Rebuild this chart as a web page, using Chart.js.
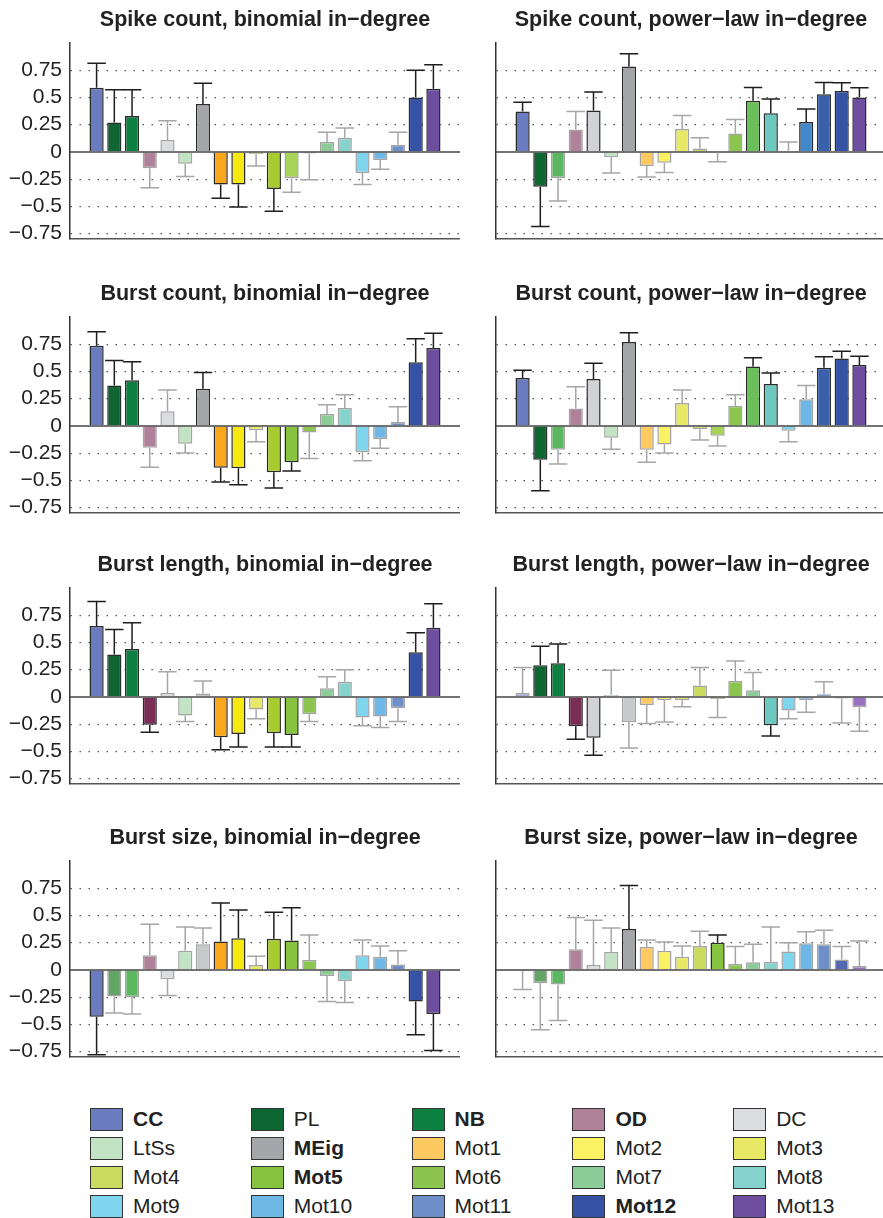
<!DOCTYPE html>
<html>
<head>
<meta charset="utf-8">
<script src="https://cdn.jsdelivr.net/npm/chart.js@4.4.1/dist/chart.umd.min.js"></script>
<style>
  html, body { margin: 0; padding: 0; background: #fff; width: 883px; height: 1218px; overflow: hidden; position: relative; font-family: "Liberation Sans", Arial, sans-serif; }
  canvas { position: absolute; }
  .lg { position: absolute; display: flex; align-items: center; font-size: 21px; color: #222; white-space: nowrap; }
  .lg .box { width: 33px; height: 23px; box-sizing: border-box; border: 1.5px solid #333; margin-right: 10px; }
</style>
</head>
<body>
<canvas id="c1" width="460" height="251" style="left:0;top:0"></canvas>
<canvas id="c2" width="460" height="251" style="left:426px;top:0"></canvas>
<canvas id="c3" width="460" height="251" style="left:0;top:274px"></canvas>
<canvas id="c4" width="460" height="251" style="left:426px;top:274px"></canvas>
<canvas id="c5" width="460" height="251" style="left:0;top:545px"></canvas>
<canvas id="c6" width="460" height="251" style="left:426px;top:545px"></canvas>
<canvas id="c7" width="460" height="251" style="left:0;top:818px"></canvas>
<canvas id="c8" width="460" height="251" style="left:426px;top:818px"></canvas>
<div id="legend"></div>
<script>
const names = ["CC", "PL", "NB", "OD", "DC", "LtSs", "MEig", "Mot1", "Mot2", "Mot3",
  "Mot4", "Mot5", "Mot6", "Mot7", "Mot8", "Mot9", "Mot10", "Mot11", "Mot12", "Mot13"];
const boldNames = ["CC", "NB", "OD", "MEig", "Mot5", "Mot12"];

// legend swatches, fill of significant bars, fill of the other bars
const legendColors = ["#6a7bc0", "#0e6633", "#0c8040", "#b0829a", "#dcdde0", "#c3e3c5", "#a5a6a9", "#fdc961", "#faf263", "#e6e866",
  "#c9da5e", "#86c440", "#8bc54f", "#8ccc99", "#86d2cd", "#7fd4ee", "#6fb8e6", "#6f8fc9", "#3652a4", "#6e4e9e"];
const sigColors = ["#6a7bc0", "#0e6633", "#0c8040", "#7a2e55", "#d2d3d6", "#c3e3c5", "#a5a6a9", "#f9a81c", "#f8e811", "#e6e866",
  "#a8cc30", "#86c440", "#8bc54f", "#6abf5a", "#6cc9c0", "#7fd4ee", "#4388c8", "#3a5fac", "#3652a4", "#6e4e9e"];
const weakColors = ["#a8b0d8", "#62a565", "#5cb860", "#b0829a", "#dcdde0", "#c3e3c5", "#c8c9cb", "#fdc961", "#faf263", "#e6e866",
  "#c9da5e", "#a8d45a", "#8bc54f", "#8ccc99", "#86d2cd", "#7fd4ee", "#6fb8e6", "#6f8fc9", "#5566b0", "#9a70c0"];

const yTicks = [-0.75, -0.5, -0.25, 0, 0.25, 0.5, 0.75];

// Spike count
const spikeBinMean = [0.59, 0.27, 0.33, -0.15, 0.11, -0.11, 0.44, -0.30, -0.30, -0.02, -0.34, -0.24, -0.015, 0.09, 0.13, -0.195, -0.075, 0.065, 0.50, 0.58];
const spikeBinErr  = [0.225, 0.30, 0.24, 0.18, 0.175, 0.115, 0.19, 0.125, 0.205, 0.11, 0.205, 0.13, 0.24, 0.09, 0.09, 0.105, 0.085, 0.115, 0.25, 0.22];
const spikeBinSig  = [1, 1, 1, 0, 0, 0, 1, 1, 1, 0, 1, 0, 0, 0, 0, 0, 0, 0, 1, 1];
const spikePowMean = [0.37, -0.32, -0.24, 0.205, 0.38, -0.05, 0.785, -0.13, -0.10, 0.21, 0.03, -0.005, 0.17, 0.47, 0.355, 0.005, 0.275, 0.53, 0.56, 0.50];
const spikePowErr  = [0.085, 0.365, 0.21, 0.167, 0.171, 0.143, 0.116, 0.10, 0.09, 0.125, 0.10, 0.085, 0.128, 0.122, 0.13, 0.085, 0.12, 0.107, 0.076, 0.09];
const spikePowSig  = [1, 1, 0, 0, 1, 0, 1, 0, 0, 0, 0, 0, 0, 1, 1, 0, 1, 1, 1, 1];

// Burst count
const burstBinMean = [0.735, 0.37, 0.42, -0.20, 0.135, -0.165, 0.34, -0.385, -0.39, -0.04, -0.425, -0.335, -0.06, 0.11, 0.165, -0.24, -0.12, 0.035, 0.585, 0.715];
const burstBinErr  = [0.13, 0.23, 0.17, 0.18, 0.195, 0.085, 0.15, 0.13, 0.15, 0.105, 0.145, 0.08, 0.24, 0.085, 0.12, 0.08, 0.085, 0.14, 0.215, 0.135];
const burstBinSig  = [1, 1, 1, 0, 0, 0, 1, 1, 1, 0, 1, 1, 0, 0, 0, 0, 0, 0, 1, 1];
const burstPowMean = [0.44, -0.31, -0.22, 0.16, 0.43, -0.11, 0.77, -0.22, -0.17, 0.21, -0.03, -0.09, 0.185, 0.545, 0.385, -0.045, 0.245, 0.535, 0.62, 0.56];
const burstPowErr  = [0.07, 0.285, 0.13, 0.20, 0.145, 0.105, 0.085, 0.115, 0.08, 0.12, 0.10, 0.095, 0.10, 0.08, 0.10, 0.10, 0.125, 0.10, 0.065, 0.08];
const burstPowSig  = [1, 1, 0, 0, 1, 0, 1, 0, 0, 0, 0, 0, 0, 1, 1, 0, 0, 1, 1, 1];

// Burst length
const lenBinMean = [0.65, 0.39, 0.44, -0.255, 0.035, -0.17, 0.03, -0.37, -0.34, -0.115, -0.335, -0.35, -0.16, 0.08, 0.14, -0.19, -0.18, -0.105, 0.41, 0.635];
const lenBinErr  = [0.225, 0.23, 0.24, 0.07, 0.195, 0.055, 0.115, 0.115, 0.12, 0.085, 0.125, 0.11, 0.065, 0.105, 0.11, 0.075, 0.10, 0.12, 0.18, 0.22];
const lenBinSig  = [1, 1, 1, 1, 0, 0, 0, 1, 1, 0, 1, 1, 0, 0, 0, 0, 0, 0, 1, 1];
const lenPowMean = [0.035, 0.29, 0.31, -0.27, -0.375, 0.02, -0.23, -0.075, -0.03, -0.03, 0.105, -0.02, 0.145, 0.06, -0.26, -0.125, -0.03, 0.025, -0.015, -0.095];
const lenPowErr  = [0.235, 0.175, 0.175, 0.12, 0.16, 0.225, 0.24, 0.17, 0.20, 0.06, 0.165, 0.17, 0.185, 0.165, 0.10, 0.075, 0.11, 0.115, 0.225, 0.22];
const lenPowSig  = [0, 1, 1, 1, 1, 0, 0, 0, 0, 0, 0, 0, 0, 0, 1, 0, 0, 0, 0, 0];

// Burst size
const sizeBinMean = [-0.43, -0.245, -0.25, 0.135, -0.085, 0.175, 0.235, 0.26, 0.29, 0.045, 0.285, 0.27, 0.09, -0.055, -0.105, 0.135, 0.12, 0.05, -0.29, -0.405];
const sizeBinErr  = [0.35, 0.15, 0.155, 0.285, 0.15, 0.22, 0.15, 0.355, 0.26, 0.08, 0.245, 0.30, 0.23, 0.235, 0.195, 0.14, 0.10, 0.125, 0.305, 0.335];
const sizeBinSig  = [1, 0, 0, 0, 0, 0, 0, 1, 1, 0, 1, 1, 0, 0, 0, 0, 0, 0, 1, 1];
const sizePowMean = [-0.01, -0.12, -0.135, 0.19, 0.045, 0.165, 0.375, 0.21, 0.175, 0.12, 0.22, 0.25, 0.055, 0.07, 0.075, 0.17, 0.245, 0.235, 0.095, 0.035];
const sizePowErr  = [0.17, 0.43, 0.33, 0.29, 0.41, 0.22, 0.40, 0.065, 0.08, 0.10, 0.135, 0.07, 0.16, 0.165, 0.32, 0.08, 0.105, 0.13, 0.12, 0.23];
const sizePowSig  = [0, 0, 0, 0, 0, 0, 1, 0, 0, 0, 0, 1, 0, 0, 0, 0, 0, 0, 0, 0];

const panels = [
  { id: "c1", title: "Spike count, binomial in−degree", mean: spikeBinMean, err: spikeBinErr, sig: spikeBinSig, labels: true },
  { id: "c2", title: "Spike count, power−law in−degree", mean: spikePowMean, err: spikePowErr, sig: spikePowSig, labels: false },
  { id: "c3", title: "Burst count, binomial in−degree", mean: burstBinMean, err: burstBinErr, sig: burstBinSig, labels: true },
  { id: "c4", title: "Burst count, power−law in−degree", mean: burstPowMean, err: burstPowErr, sig: burstPowSig, labels: false },
  { id: "c5", title: "Burst length, binomial in−degree", mean: lenBinMean, err: lenBinErr, sig: lenBinSig, labels: true },
  { id: "c6", title: "Burst length, power−law in−degree", mean: lenPowMean, err: lenPowErr, sig: lenPowSig, labels: false },
  { id: "c7", title: "Burst size, binomial in−degree", mean: sizeBinMean, err: sizeBinErr, sig: sizeBinSig, labels: true },
  { id: "c8", title: "Burst size, power−law in−degree", mean: sizePowMean, err: sizePowErr, sig: sizePowSig, labels: false },
];

const FONT = "'Liberation Sans', Arial, sans-serif";

// zero line + one-sided error bars, drawn over the bars
const errorBars = {
  id: "errorBars",
  afterDatasetsDraw(chart) {
    const { ctx, chartArea, scales: { x, y } } = chart;
    const ds = chart.data.datasets[0];
    ctx.save();
    const y0 = y.getPixelForValue(0);
    ctx.strokeStyle = "#444";
    ctx.lineWidth = 1.5;
    ctx.beginPath();
    ctx.moveTo(chartArea.left, y0);
    ctx.lineTo(chartArea.right, y0);
    ctx.stroke();
    ds.means.forEach((m, i) => {
      const e = ds.errs[i];
      const end = m < 0 ? m - e : m + e;
      const xc = x.getPixelForValue(i + 1);
      const xl = x.getPixelForValue(i + 1 - 0.52);
      const xr = x.getPixelForValue(i + 1 + 0.52);
      const ya = y.getPixelForValue(m);
      const yb = y.getPixelForValue(end);
      ctx.strokeStyle = ds.sigs[i] ? "#1e1e1e" : "#a6a6a6";
      ctx.lineWidth = 1.5;
      ctx.beginPath();
      ctx.moveTo(xc, ya);
      ctx.lineTo(xc, yb);
      ctx.moveTo(xl, yb);
      ctx.lineTo(xr, yb);
      ctx.stroke();
    });
    ctx.restore();
  }
};

panels.forEach((p) => {
  new Chart(document.getElementById(p.id), {
    type: "bar",
    data: {
      datasets: [{
        data: p.mean.map((v, i) => ({ x: i + 1, y: v })),
        backgroundColor: p.sig.map((s, i) => (s ? sigColors[i] : weakColors[i])),
        borderColor: p.sig.map((s) => (s ? "#2b2b2b" : "#a4a4a4")),
        borderWidth: 1.5,
        barPercentage: 0.8,
        categoryPercentage: 1,
        means: p.mean,
        errs: p.err,
        sigs: p.sig,
      }],
    },
    options: {
      responsive: false,
      animation: false,
      layout: { padding: { top: 0, bottom: 12, left: 0, right: 0 } },
      scales: {
        x: {
          type: "linear",
          min: 0,
          max: 21,
          ticks: { display: false, stepSize: 1 },
          grid: { display: false },
          border: { display: true, color: "#555", width: 1.5 },
          afterFit(s) { s.height = 0; },
        },
        y: {
          min: -0.8,
          max: 1.0,
          afterBuildTicks(s) { s.ticks = yTicks.map((v) => ({ value: v })); },
          afterFit(s) { s.width = 70; s.paddingTop = 0; s.paddingBottom = 0; },
          ticks: {
            display: p.labels,
            padding: 8,
            color: "#222",
            font: { family: FONT, size: 21 },
            callback: (v) => (v === 0 ? "0" : v < 0 ? "−" + Math.abs(v) : String(v)),
          },
          grid: {
            drawTicks: false,
            lineWidth: 1.2,
            color: (c) => (c.tick && c.tick.value === 0 ? "rgba(0,0,0,0)" : "#555"),
          },
          border: {
            display: true,
            color: "#333",
            width: 1.5,
            dash: (c) => (c.tick ? [1.5, 7.5] : []),
          },
        },
      },
      plugins: {
        legend: { display: false },
        tooltip: { enabled: false },
        title: {
          display: true,
          text: p.title,
          fullSize: false,
          color: "#222",
          font: { family: FONT, size: 21.5, weight: "bold" },
          padding: { top: 7, bottom: 10.2 },
        },
      },
    },
    plugins: [errorBars],
  });
});

// legend, 5 columns x 4 rows
const legend = document.getElementById("legend");
names.forEach((n, i) => {
  const col = i % 5, row = Math.floor(i / 5);
  const item = document.createElement("div");
  item.className = "lg";
  item.style.left = (90 + col * 160.8) + "px";
  item.style.top = (1107 + row * 29) + "px";
  item.style.fontWeight = boldNames.includes(n) ? "bold" : "normal";
  const box = document.createElement("span");
  box.className = "box";
  box.style.background = legendColors[i];
  item.appendChild(box);
  item.appendChild(document.createTextNode(n));
  legend.appendChild(item);
});
</script>
</body>
</html>
